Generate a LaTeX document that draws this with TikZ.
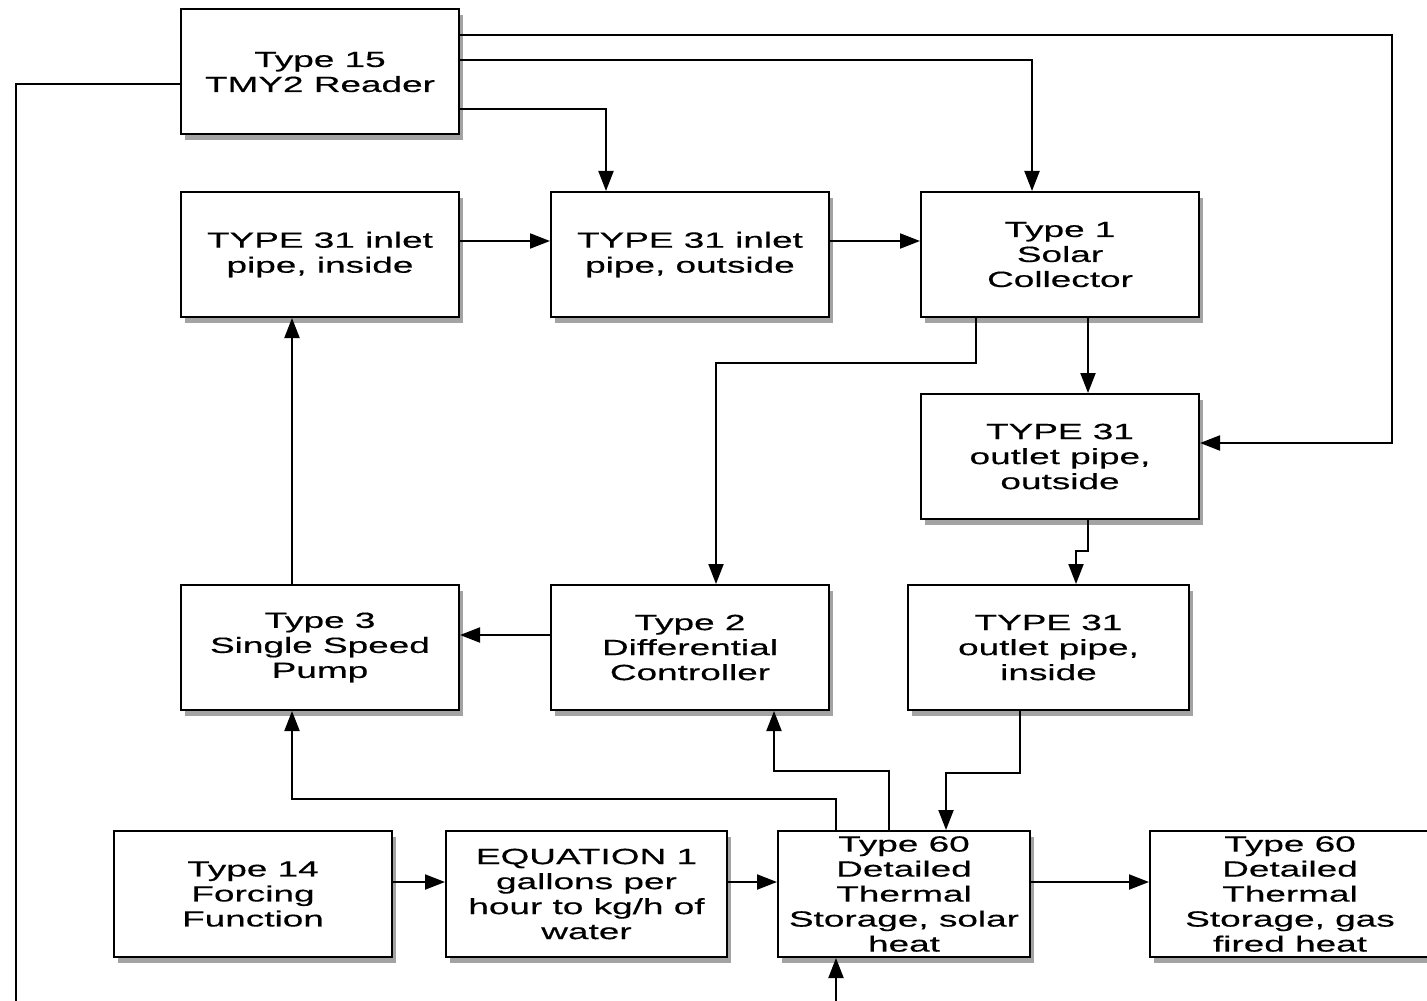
\documentclass[tikz,border=0pt]{standalone}
\usepackage{fontspec}
\setmainfont{Liberation Sans}[FakeStretch=1.68,FakeBold=0.4]
\usetikzlibrary{arrows.meta,shadows}
\tikzset{
  blk/.style={draw,line width=1pt,fill=white,minimum width=139pt,minimum height=62.5pt,inner sep=0pt,
    align=center,font=\fontsize{11}{12.5}\selectfont,
    drop shadow={shadow xshift=2pt,shadow yshift=-3pt,fill=black!80,opacity=.45}},
  flow/.style={line width=1pt,-{Triangle[length=10pt,width=7.5pt]}},
  wire/.style={line width=1pt}
}
\begin{document}
\begin{tikzpicture}[x=.5pt,y=-.5pt]
		\useasboundingbox (0,0) rectangle (1427,1000);
		\fill[white] (0,0) rectangle (1427,1000);
		
		% top rows
		\node[blk] (tmy) at (320,72) {Type 15\\TMY2 Reader};
		\node[blk] (inin) at (320,254.5) {TYPE 31 inlet\\pipe, inside};
		\node[blk] (inout) at (690,254.5) {TYPE 31 inlet\\pipe, outside};
		\node[blk] (coll) at (1060,254.5) {Type 1\\Solar\\Collector};
		\node[blk] (outout) at (1060,456.5) {TYPE 31\\outlet pipe,\\outside};
		
		% middle row
		\node[blk] (pump) at (320,647.5) {Type 3\\Single Speed\\Pump};
		\node[blk] (ctrl) at (690,647.5) {Type 2\\Differential\\Controller};
		\node[blk,minimum width=140.5pt] (outin) at (1048.5,647.5) {TYPE 31\\outlet pipe,\\inside};
		
		% bottom row
		\node[blk,minimum height=63pt] (force) at (253,894) {Type 14\\Forcing\\Function};
		\node[blk,minimum width=140.5pt,minimum height=63pt] (eqn) at (586.5,894) {EQUATION 1\\gallons per\\hour to kg/h of\\water};
		\node[blk,minimum width=126pt,minimum height=63pt] (stor) at (904,894) {Type 60\\Detailed\\Thermal\\Storage, solar\\heat};
		\node[blk,minimum width=140pt,minimum height=63pt] (gas) at (1290,894) {Type 60\\Detailed\\Thermal\\Storage, gas\\fired heat};
		
		\coordinate (wx) at (16,1010); \coordinate (feed) at (836,1010);
		
		% weather outputs
		\draw[wire] ([yshift=-6pt]tmy.west) -| (wx);
		\draw[flow] ([yshift=18.5pt]tmy.east) -| (1392,443) -- (outout.east |- 0,443);
		\draw[flow] ([yshift=6pt]tmy.east) -| ([xshift=-14pt]coll.north);
		\draw[flow] ([yshift=-18.5pt]tmy.east) -| ([xshift=-42pt]inout.north);
		
		% collector loop
		\draw[flow] ([yshift=6.75pt]inin.east) -- ([yshift=6.75pt]inout.west);
		\draw[flow] ([yshift=6.75pt]inout.east) -- ([yshift=6.75pt]coll.west);
		\draw[flow] ([xshift=-42pt]coll.south) -- ++(0,45) -| ([xshift=13pt]ctrl.north);
		\draw[flow] ([xshift=14pt]coll.south) -- ([xshift=14pt]outout.north);
		\draw[flow] ([xshift=14pt]outout.south) -- ++(0,31) -| ([xshift=13.75pt]outin.north);
		\draw[flow] ([xshift=-14.25pt]outin.south) -- ++(0,62) -| ([xshift=21pt]stor.north);
		\draw[flow] ([yshift=6.25pt]ctrl.west) -- ([yshift=6.25pt]pump.east);
		\draw[flow] ([xshift=-14pt]pump.north) -- ([xshift=-14pt]inin.south);
		
		% tank feedback
		\draw[flow] ([xshift=-7.5pt]stor.north) -- ++(0,-59) -| ([xshift=42pt]ctrl.south);
		\draw[flow] ([xshift=-34pt]stor.north) -- ++(0,-31) -| ([xshift=-14pt]pump.south);
		
		% load side
		\draw[flow] ([yshift=6pt]force.east) -- ([yshift=6pt]eqn.west);
		\draw[flow] ([yshift=6pt]eqn.east) -- ([yshift=6pt]stor.west);
		\draw[flow] ([yshift=6pt]stor.east) -- ([yshift=6pt]gas.west);
		\draw[flow] (feed) -- ([xshift=-34pt]stor.south);
\end{tikzpicture}
\end{document}
